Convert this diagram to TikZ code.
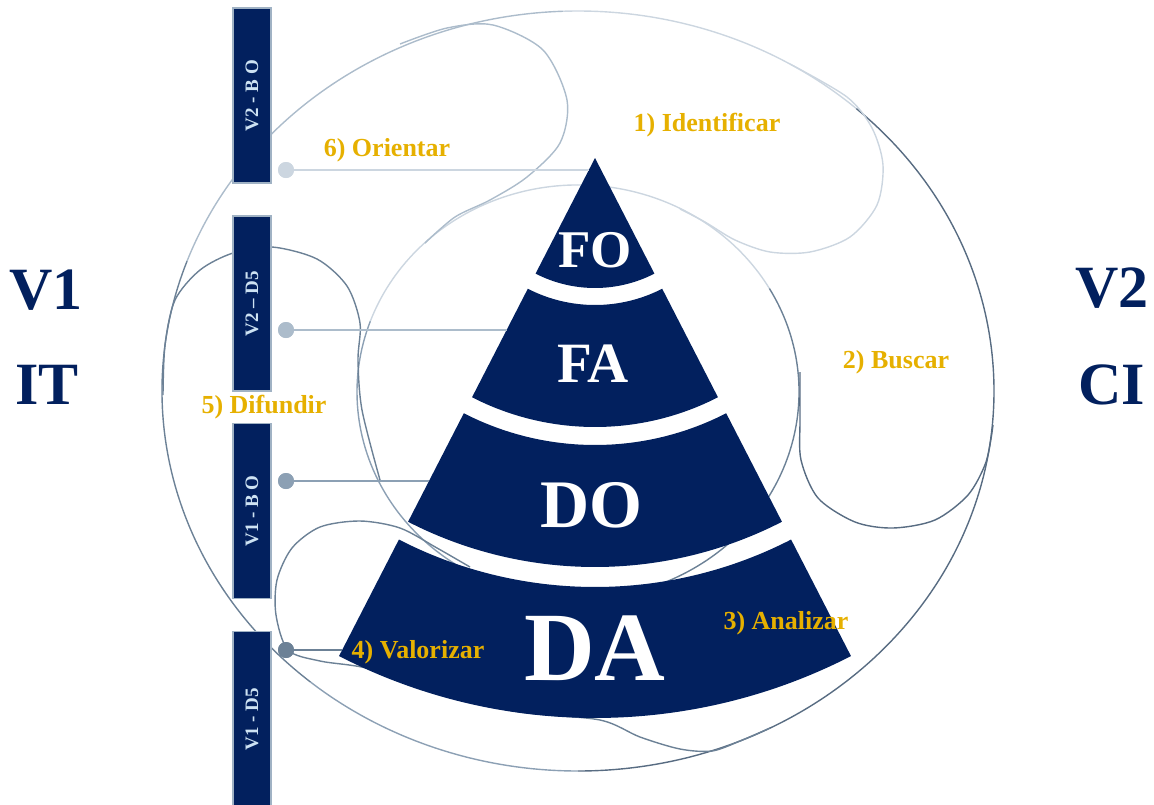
\documentclass[tikz,border=0pt]{standalone}
\usepackage{fontspec}
\setmainfont{Liberation Serif}
\usetikzlibrary{calc}
\definecolor{navy}{RGB}{2,32,94}
\definecolor{gold}{RGB}{230,176,0}
\definecolor{boxtxt}{RGB}{205,226,243}
\definecolor{boxedge}{RGB}{160,178,196}
\definecolor{cA}{RGB}{204,214,224}
\definecolor{cB}{RGB}{172,188,203}
\definecolor{cC}{RGB}{140,160,180}
\definecolor{cD}{RGB}{108,129,150}
\definecolor{cE}{RGB}{88,108,130}
\begin{document}
\begin{tikzpicture}[x=1pt,y=-1pt,
  curve/.style={line width=1.4pt, draw=#1},
  vbox/.style={draw=boxedge, line width=1.2pt, fill=navy, rotate=90, minimum width=175pt, minimum height=38pt, inner sep=0pt, text=boxtxt, font=\fontsize{19}{19}\selectfont\bfseries},
  dot/.style={circle, fill=#1, minimum size=16pt, inner sep=0pt},
  conn/.style={line width=2.2pt, draw=#1},
  stage/.style={text=gold, font=\fontsize{26}{26}\selectfont\bfseries},
  side/.style={text=navy, font=\fontsize{60}{60}\selectfont\bfseries},
  layer/.style={text=white, font=\fontsize{#1}{#1}\selectfont\bfseries}]
\useasboundingbox (0,0) rectangle (1154,804);

% ---------- outer ellipse ----------
\coordinate (oc) at (578,391);
\draw[curve=cD] (oc) ++(130:416 and 380) arc[start angle=130, end angle=200, x radius=416, y radius=380];
\draw[curve=cB] (oc) ++(200:416 and 380) arc[start angle=200, end angle=268, x radius=416, y radius=380];
\draw[curve=cA] (oc) ++(268:416 and 380) arc[start angle=268, end angle=312, x radius=416, y radius=380];
\draw[curve=cE] (oc) ++(312:416 and 380) arc[start angle=312, end angle=450, x radius=416, y radius=380];
\draw[curve=cC] (oc) ++(90:416 and 380) arc[start angle=90, end angle=130, x radius=416, y radius=380];

% ---------- inner ellipse ----------
\coordinate (ic) at (578,392);
\draw[curve=cA] (ic) ++(200:221 and 207) arc[start angle=200, end angle=330, x radius=221, y radius=207];
\draw[curve=cD] (ic) ++(330:221 and 207) arc[start angle=330, end angle=450, x radius=221, y radius=207];
\draw[curve=cC] (ic) ++(90:221 and 207) arc[start angle=90, end angle=200, x radius=221, y radius=207];

% ---------- loops ----------
\draw[curve=cB] plot[smooth] coordinates {(400,44) (447,28) (493,25) (543,50) (567,100) (560,143) (527,177) (490,200) (455,217) (425,243)};
\draw[curve=cA] plot[smooth] coordinates {(790,64) (847,97) (872,128) (883,165) (877,205) (850,237) (810,252) (770,252) (735,240) (705,222) (680,209)};
\draw[curve=cE] plot[smooth] coordinates {(800,372) (800,420) (801,460) (818,498) (855,522) (893,528) (935,520) (968,495) (986,462) (993,425)};
\draw[curve=cD] plot[smooth] coordinates {(470,567) (437,548) (400,528) (360,521) (320,527) (292,548) (277,580) (276,615) (288,650) (320,661) (370,669) (440,695) (520,712) (600,720) (640,737) (680,749) (712,751) (740,741) (770,728)};
\draw[curve=cD] plot[smooth] coordinates {(163,395) (165,345) (175,300) (200,270) (233,253) (272,247) (317,259) (347,286) (360,323) (358,360) (362,410) (380,480)};

% ---------- pyramid ----------
\coordinate (apex) at (595,158);
\fill[navy] (apex) -- ++(62.8:130) arc[start angle=62.8, end angle=117.2, radius=130] -- cycle;
\fill[navy] (apex) ++(62.8:147) arc[start angle=62.8, end angle=117.2, radius=147] -- ++(117.2:122) arc[start angle=117.2, end angle=62.8, radius=269] -- cycle;
\fill[navy] (apex) ++(62.8:287) arc[start angle=62.8, end angle=117.2, radius=287] -- ++(117.2:122) arc[start angle=117.2, end angle=62.8, radius=409] -- cycle;
\fill[navy] (apex) ++(62.8:429) arc[start angle=62.8, end angle=117.2, radius=429] -- ++(117.2:131) arc[start angle=117.2, end angle=62.8, radius=560] -- cycle;

\node[layer=53] (fo) at (595,250) {FO};
\node[layer=57] (fa) at (593,364) {FA};
\node[layer=68] (do) at (591,505) {DO};
\node[layer=98] (da) at (595,648) {DA};

% ---------- connectors ----------
\coordinate (e1) at (589,170);
\coordinate (e2) at (507,330);
\coordinate (e3) at (429,481);
\coordinate (e4) at (342,650);
\node[dot=cA] (d1) at (286,170) {};
\node[dot=cB] (d2) at (286,330) {};
\node[dot=cC] (d3) at (286,481) {};
\node[dot=cD] (d4) at (286,650) {};
\draw[conn=cA] (d1.center) -- (e1);
\draw[conn=cB] (d2.center) -- (e2);
\draw[conn=cC] (d3.center) -- (e3);
\draw[conn=cD] (d4.center) -- (e4);
\node[dot=cA] at (d1) {};
\node[dot=cB] at (d2) {};
\node[dot=cC] at (d3) {};
\node[dot=cD] at (d4) {};

% ---------- boxes ----------
\node[vbox] (b1) at (252,95.5) {V2 - B O};
\node[vbox] (b2) at (252,303.5) {V2 -- D5};
\node[vbox] (b3) at (252,511) {V1 - B O};
\node[vbox] (b4) at (252,719) {V1 - D5};

% ---------- labels ----------
\node[stage] (s1) at (707,125) {1) Identificar};
\node[stage] (s2) at (896,362) {2) Buscar};
\node[stage] (s3) at (786,623) {3) Analizar};
\node[stage] (s4) at (418,652) {4) Valorizar};
\node[stage] (s5) at (264,407) {5) Difundir};
\node[stage] (s6) at (387,150) {6) Orientar};

\node[side] (v1) at (46,290) {V1};
\node[side] (it) at (47,385) {IT};
\node[side] (v2) at (1112,288) {V2};
\node[side] (ci) at (1112,385) {CI};
\end{tikzpicture}
\end{document}
